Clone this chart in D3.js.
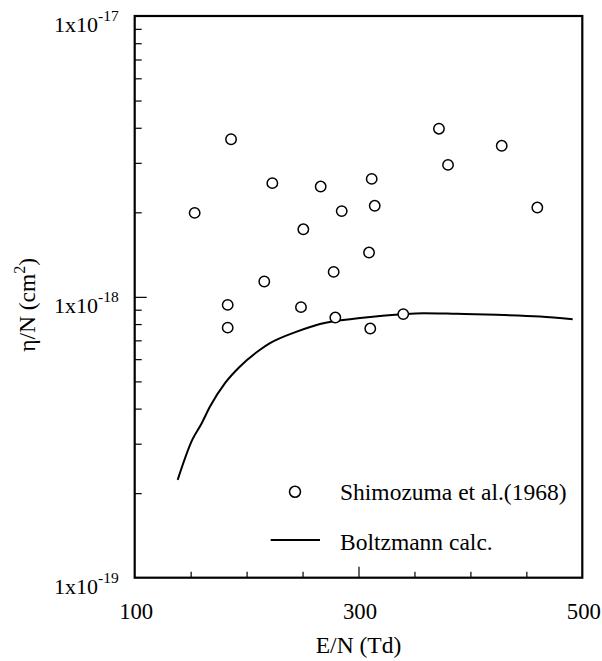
<!DOCTYPE html>
<html>
<head>
<meta charset="utf-8">
<script src="https://cdn.jsdelivr.net/npm/d3@7"></script>
<style>
  body { margin: 0; background: #fff; }
</style>
</head>
<body>
<script>
const width = 602;
const height = 661;
const margin = ({top: 16, right: 19.7, bottom: 83.3, left: 134.7});
const serif = "Liberation Serif";

// Shimozuma et al. (1968) measured points: E/N (Td), eta/N (cm^2)
const expEN  = [153.6, 186.1, 223.0, 183.1, 183.1, 215.8, 250.7, 248.6, 266.2, 285.0, 277.8,
                279.3, 311.8, 314.5, 309.4, 310.5, 340.0, 371.9, 380.0, 428.0, 459.8];
const expEta = [1.99e-18, 3.64e-18, 2.54e-18, 9.36e-19, 7.77e-19, 1.134e-18, 1.74e-18, 9.19e-19,
                2.47e-18, 2.02e-18, 1.227e-18, 8.44e-19, 2.63e-18, 2.11e-18, 1.438e-18, 7.71e-19,
                8.68e-19, 3.97e-18, 2.95e-18, 3.45e-18, 2.08e-18];

// Boltzmann calculation curve
const calcEN  = [138.4, 151.5, 159.9, 167.3, 180.7, 194.1, 212.0, 220.9, 244.8, 265.6, 301.4,
                 319.2, 357.9, 387.8, 423.5, 462.2, 491.4];
const calcEta = [2.23e-19, 3.10e-19, 3.55e-19, 4.07e-19, 4.93e-19, 5.65e-19, 6.48e-19, 6.84e-19,
                 7.52e-19, 8.01e-19, 8.40e-19, 8.55e-19, 8.75e-19, 8.70e-19, 8.63e-19, 8.51e-19, 8.33e-19];

const xTicks = [150, 200, 250, 300, 350, 400, 450];
const xMajor = [300];
const xLabels = [100, 300, 500];
const yDecades = [-19, -18, -17];
const legendLabels = ["Shimozuma et al.(1968)", "Boltzmann calc."];

const svg = d3.select("body").append("svg")
    .attr("width", width)
    .attr("height", height)
    .style("font-family", serif);

const x = d3.scaleLinear()
    .domain([100, 500])
    .range([margin.left, width - margin.right]);

const y = d3.scaleLog()
    .domain([1e-19, 1e-17])
    .range([height - margin.bottom, margin.top]);

// y minor + major ticks (log)
const yTicks = [];
yDecades.slice(0, -1).forEach(e => {
    for (let m = 1; m < 10; m++) {
        if (m === 1 && e === -19) continue;
        yTicks.push(m * Math.pow(10, e));
    }
});

const xAxis = svg.append("g")
    .attr("transform", `translate(0,${y.range()[0]})`)
    .call(d3.axisBottom(x).tickValues(xTicks).tickSize(-6).tickFormat(""));
xAxis.select(".domain").remove();
xAxis.selectAll(".tick line")
    .attr("stroke", "#000")
    .attr("stroke-width", 1.2)
    .attr("y2", d => xMajor.includes(d) ? -11 : -6);

const yAxis = svg.append("g")
    .attr("transform", `translate(${x.range()[0]},0)`)
    .call(d3.axisLeft(y).tickValues(yTicks).tickSize(-7).tickFormat(""));
yAxis.select(".domain").remove();
yAxis.selectAll(".tick line")
    .attr("stroke", "#000")
    .attr("stroke-width", 1.2)
    .attr("x2", d => Math.abs(Math.log10(d) - Math.round(Math.log10(d))) < 1e-9 ? 12 : 7);

// frame
svg.append("rect")
    .attr("x", x.range()[0])
    .attr("y", y.range()[1])
    .attr("width", x.range()[1] - x.range()[0])
    .attr("height", y.range()[0] - y.range()[1])
    .attr("fill", "none")
    .attr("stroke", "#000")
    .attr("stroke-width", 2.2);

// x tick labels
svg.append("g")
  .selectAll("text")
  .data(xLabels)
  .join("text")
    .attr("x", d => x(d) + 1.5)
    .attr("y", y.range()[0] + 41)
    .attr("text-anchor", "middle")
    .style("font-family", serif)
    .style("font-size", "22.7px")
    .text(d => d);

// y tick labels 1x10^e
const yl = svg.append("g")
  .selectAll("text")
  .data(yDecades)
  .join("text")
    .attr("x", x.range()[0] - 16)
    .attr("y", d => y(Math.pow(10, d)) + 16)
    .attr("text-anchor", "end")
    .style("font-family", serif)
    .style("font-size", "22px");
yl.append("tspan").text("1x10");
yl.append("tspan")
    .style("font-size", "15.5px")
    .attr("dy", -11)
    .text(d => d);

// axis titles
svg.append("text")
    .attr("x", (x.range()[0] + x.range()[1]) / 2)
    .attr("y", 653)
    .attr("text-anchor", "middle")
    .style("font-family", serif)
    .style("font-size", "23.5px")
    .text("E/N (Td)");

const yt = svg.append("text")
    .attr("transform", `translate(35,${(y.range()[0] + y.range()[1]) / 2 + 8}) rotate(-90)`)
    .attr("text-anchor", "middle")
    .style("font-family", serif)
    .style("font-size", "23.5px");
yt.append("tspan").text("\u03b7/N (cm");
yt.append("tspan").style("font-size", "16px").attr("dy", -10).text("2");
yt.append("tspan").attr("dy", 10).text(")");

// Boltzmann curve
const line = d3.line()
    .x((d, i) => x(calcEN[i]))
    .y(d => y(d))
    .curve(d3.curveMonotoneX);

svg.append("path")
    .datum(calcEta)
    .attr("fill", "none")
    .attr("stroke", "#000")
    .attr("stroke-width", 2)
    .attr("d", line);

// measured points
svg.append("g")
  .selectAll("circle")
  .data(expEta)
  .join("circle")
    .attr("cx", (d, i) => x(expEN[i]))
    .attr("cy", d => y(d))
    .attr("r", 5.2)
    .attr("fill", "#fff")
    .attr("stroke", "#000")
    .attr("stroke-width", 1.5);

// legend
const lg = svg.append("g");
lg.append("circle")
    .attr("cx", 295)
    .attr("cy", 491.7)
    .attr("r", 5.5)
    .attr("fill", "none")
    .attr("stroke", "#000")
    .attr("stroke-width", 1.6);
lg.append("line")
    .attr("x1", 270.7).attr("x2", 320)
    .attr("y1", 540).attr("y2", 540)
    .attr("stroke", "#000")
    .attr("stroke-width", 2);
lg.selectAll("text")
  .data(legendLabels)
  .join("text")
    .attr("x", 340)
    .attr("y", (d, i) => 500 + i * 50)
    .style("font-family", serif)
    .style("font-size", "23.5px")
    .text(d => d);
</script>
</body>
</html>
